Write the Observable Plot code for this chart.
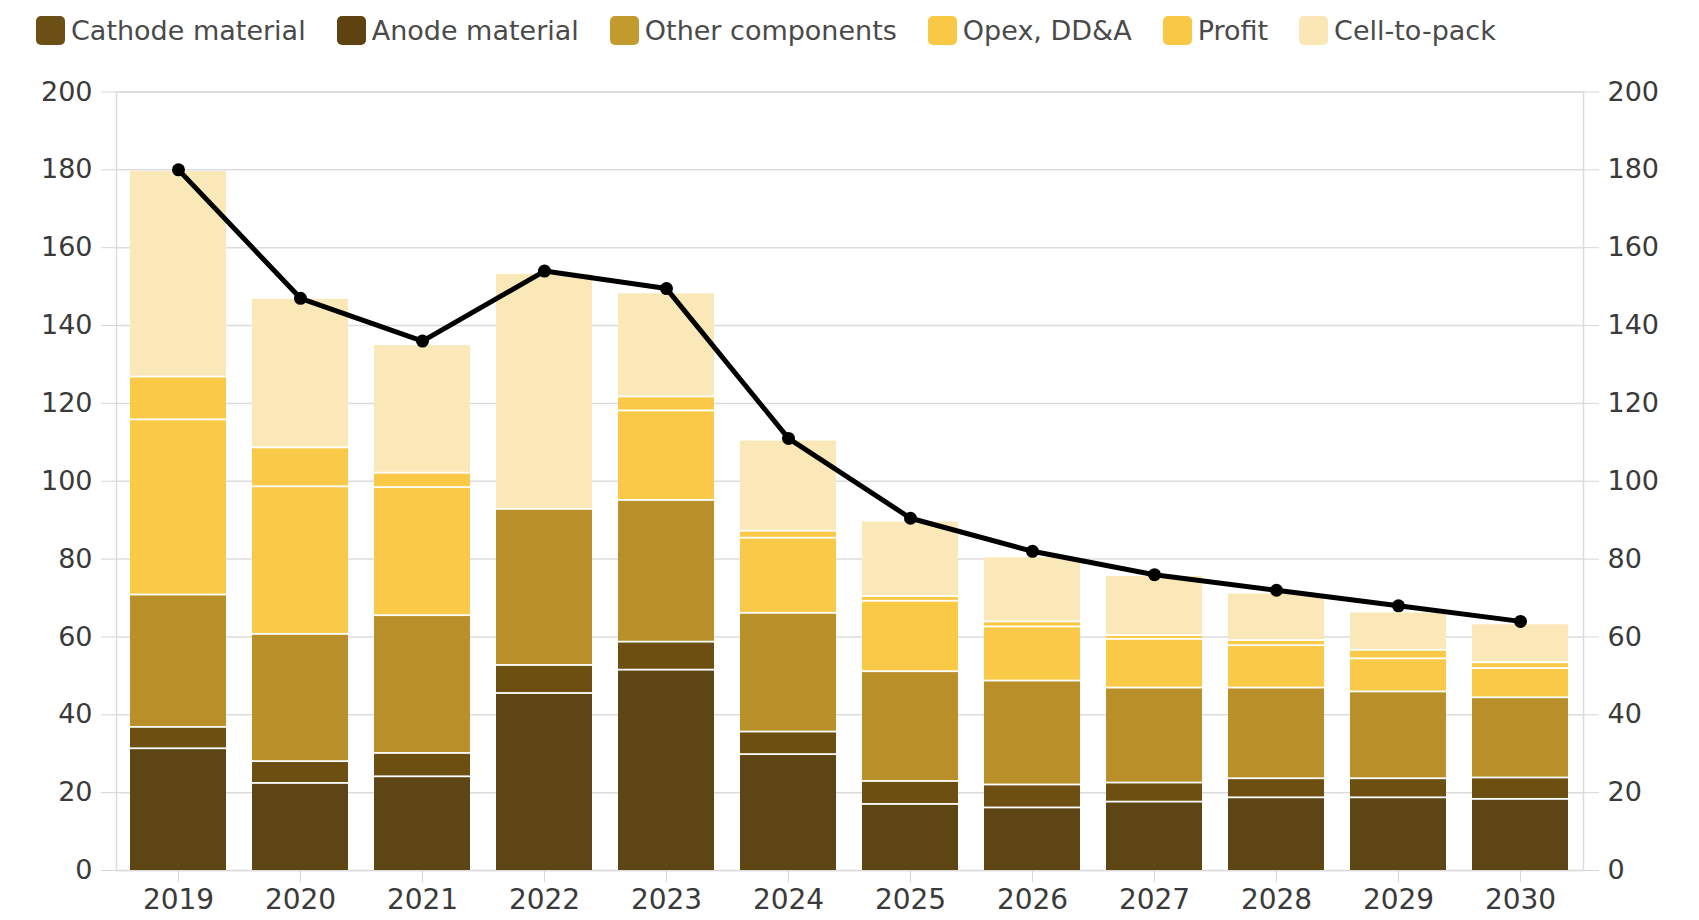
<!DOCTYPE html>
<html>
<head>
<meta charset="utf-8">
<script src="https://cdn.jsdelivr.net/npm/d3@7"></script>
<script src="https://cdn.jsdelivr.net/npm/@observablehq/plot@0.6"></script>
<style>
  html, body { margin: 0; padding: 0; background: #fff; }
  #legend {
    height: 60px;
    display: flex;
    align-items: center;
    padding-left: 36px;
    font-family: "DejaVu Sans", sans-serif;
    font-size: 27px;
    color: #4a4a4a;
    box-sizing: border-box;
  }
  .item { display: flex; align-items: center; margin-right: 31px; }
  .swatch { width: 29px; height: 29px; border-radius: 5px; margin-right: 6px; }
  #chart svg { display: block; }
</style>
</head>
<body>
<div id="legend"></div>
<div id="chart"></div>
<script>
// Battery pack price breakdown by year (stacked components) with total pack price line
const years = ["2019", "2020", "2021", "2022", "2023", "2024", "2025", "2026", "2027", "2028", "2029", "2030"];

const parts = ["Cathode material", "Anode material", "Other components", "Opex, DD&A", "Profit", "Cell-to-pack"];
const partColors = ["#5e4514", "#6d4f12", "#b98f2a", "#f9c947", "#f9c947", "#fbe8b8"];
const legendColors = ["#6b4f14", "#5e4310", "#c29a2e", "#f9c844", "#f9c844", "#fbe7b5"];

const cathode    = [31.5, 22.6, 24.3, 45.7, 51.7, 30.0, 17.2, 16.3, 17.8, 18.9, 18.9, 18.5];
const anode      = [5.5, 5.6, 6.0, 7.2, 7.2, 5.8, 5.9, 5.9, 4.9, 4.9, 4.9, 5.5];
const other      = [34.0, 32.7, 35.4, 40.1, 36.4, 30.5, 28.2, 26.7, 24.4, 23.3, 22.3, 20.6];
const opex       = [45.0, 37.9, 32.9, 0, 23.0, 19.3, 18.1, 13.9, 12.5, 10.9, 8.5, 7.5];
const profit     = [11.0, 10.0, 3.7, 0, 3.6, 1.8, 1.2, 1.3, 1.0, 1.3, 2.2, 1.5];
const cellToPack = [53.0, 38.4, 33.0, 60.6, 26.7, 23.4, 19.4, 16.7, 15.4, 12.2, 9.8, 10.0];

const packPrice  = [180, 147, 136, 154, 149.5, 111, 90.5, 82, 76, 72, 68, 64];

const yTicks = [0, 20, 40, 60, 80, 100, 120, 140, 160, 180, 200];

// Long-format rows for the stacked bars, stacked bottom-up in component order
const series = [cathode, anode, other, opex, profit, cellToPack];
const rows = [];
years.forEach((year, i) => {
  parts.forEach((part, k) => rows.push({year, part, value: series[k][i]}));
});
const priceRows = years.map((year, i) => ({year, value: packPrice[i]}));

// Legend
const legend = document.getElementById("legend");
parts.forEach((p, k) => {
  const item = document.createElement("div");
  item.className = "item";
  const sw = document.createElement("div");
  sw.className = "swatch";
  sw.style.background = legendColors[k];
  const label = document.createElement("span");
  label.textContent = p;
  item.append(sw, label);
  legend.append(item);
});

const axisStyle = {tickSize: 15, tickPadding: 9, stroke: "#d6d6d6", fill: "#3a3a3a", fontSize: 27, label: null};

const chart = Plot.plot({
  width: 1699,
  height: 860,
  marginTop: 31.5,
  marginBottom: 50,
  marginLeft: 116,
  marginRight: 116,
  style: {fontFamily: "DejaVu Sans, sans-serif", fontSize: "27px", color: "#3a3a3a", background: "#fff"},
  x: {type: "band", domain: years, paddingInner: 0.21, paddingOuter: 0.105, label: null},
  y: {domain: [0, 200], label: null},
  color: {domain: parts, range: partColors},
  marks: [
    Plot.gridY(yTicks, {stroke: "#dcdcdc", strokeOpacity: 1, strokeWidth: 1.5}),
    Plot.frame({stroke: "#dcdcdc", strokeWidth: 1.5}),
    Plot.axisY(yTicks, {anchor: "left", ...axisStyle}),
    Plot.axisY(yTicks, {anchor: "right", ...axisStyle}),
    Plot.axisX({tickSize: 12, tickPadding: 7, stroke: "#d6d6d6", fill: "#3a3a3a", fontSize: 28, label: null}),
    Plot.barY(rows, {x: "year", y: "value", fill: "part", insetTop: 1.8}),
    Plot.line(priceRows, {x: "year", y: "value", stroke: "#000", strokeWidth: 5}),
    Plot.dot(priceRows, {x: "year", y: "value", r: 6.5, fill: "#000"})
  ]
});
document.getElementById("chart").append(chart);
</script>
</body>
</html>
